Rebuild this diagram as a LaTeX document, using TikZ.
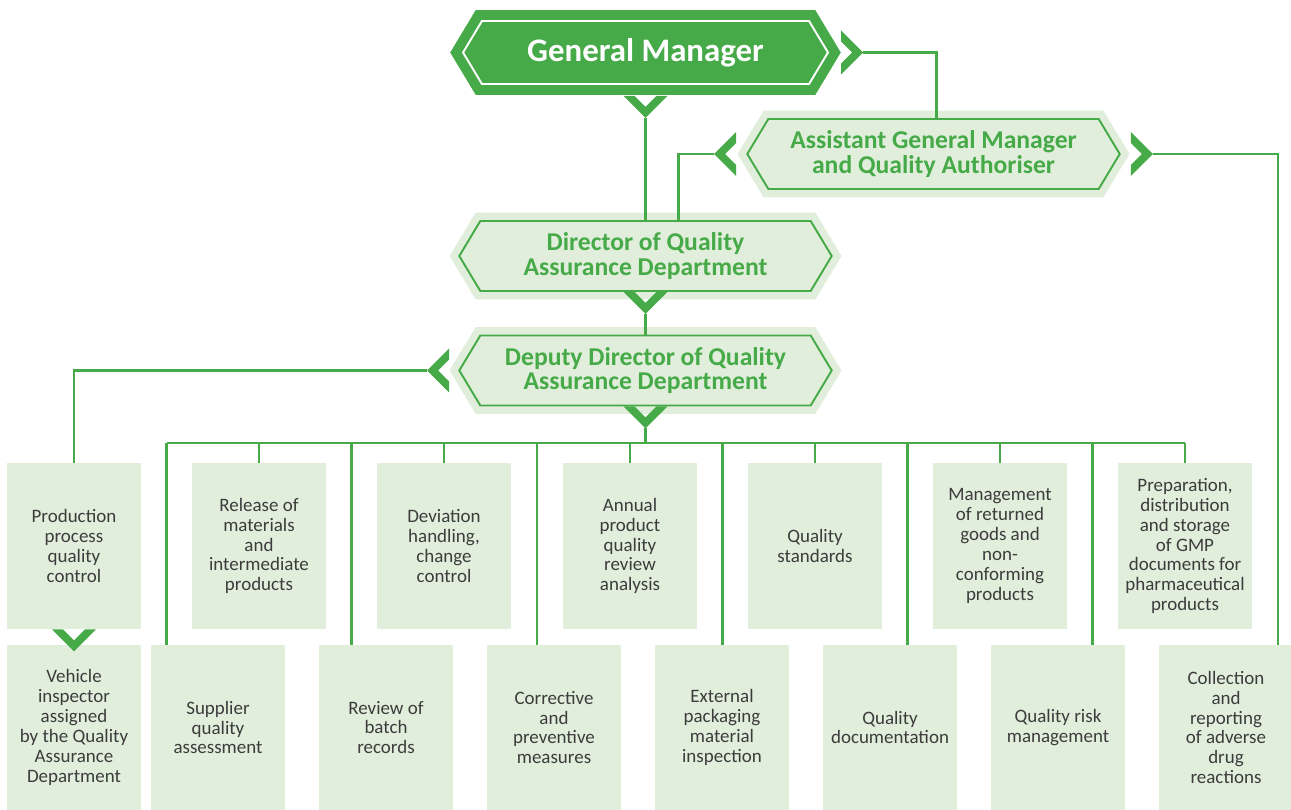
\documentclass[tikz,border=0pt]{standalone}
\usepackage{fontspec}
\setmainfont{Carlito}
\usetikzlibrary{calc,shapes.symbols}

\definecolor{qgreen}{RGB}{70,170,72}
\definecolor{qlight}{RGB}{225,238,220}
\definecolor{qtext}{RGB}{60,60,60}

\begin{document}
\begin{tikzpicture}
          [ x=0.02cm, y=-0.02cm,
            hexa/.style={
              signal,
              signal to=west and east,
              signal pointer angle=118,
              inner sep=0pt,
              align=center,
              line width=1.1pt,
              line join=miter},
            head/.style={
              hexa,
              fill=qlight,
              draw=qgreen,
              text=qgreen,
              minimum width=7.45cm,
              minimum height=1.4cm,
              font=\bfseries\fontsize{14.6}{13.9}\selectfont,
              preaction={draw=qlight, line width=9.5pt}},
            top/.style={
              hexa,
              fill=qgreen,
              draw=white,
              text=white,
              minimum width=7.3cm,
              minimum height=1.26cm,
              font=\bfseries\fontsize{18.7}{20}\selectfont,
              preaction={draw=qgreen, line width=12.5pt}},
            task/.style={
              rectangle,
              fill=qlight,
              inner sep=0pt,
              align=center,
              text=qtext,
              minimum width=2.68cm,
              font=\fontsize{10.8}{11.3}\selectfont},
            upper/.style={task, minimum height=3.32cm},
            lower/.style={task, minimum height=3.3cm},
            link/.style={
              draw=qgreen,
              line width=1.3pt},
            chev/.pic={
              \fill[qgreen] (0,-22) -- (22,0) -- (0,22) -- (0,11) -- (11,0) -- (0,-11) -- cycle;
              \coordinate (-tip) at (22,0);},
          ]

          \useasboundingbox (0,0) rectangle (1291,810);

          \node (gm) [top] at (645.5,52.5) {General Manager};
          \node (agm) [head] at (933.5,154) {Assistant General Manager\\and Quality Authoriser};
          \node (dir) [head] at (645.5,256) {Director of Quality\\Assurance Department};
          \node (dep) [head] at (645.5,370.5) {Deputy Director of Quality\\Assurance Department};

          \node (prod) [upper] at (74,546) {Production\\process\\quality\\control};
          \node (rel) [upper] at (259,546) {Release of\\materials\\and\\intermediate\\products};
          \node (dev) [upper] at (444,546) {Deviation\\handling,\\change\\control};
          \node (ann) [upper] at (630,546) {Annual\\product\\quality\\review\\analysis};
          \node (std) [upper] at (815,546) {Quality\\standards};
          \node (ret) [upper] at (1000,546) {Management\\of returned\\goods and\\non-\\conforming\\products};
          \node (gmp) [upper] at (1185,546) {Preparation,\\distribution\\and storage\\of GMP\\documents for\\pharmaceutical\\products};

          \node (veh) [lower] at (74,727.5) {Vehicle\\inspector\\assigned\\by the Quality\\Assurance\\Department};
          \node (sup) [lower] at (218,727.5) {Supplier\\quality\\assessment};
          \node (rev) [lower] at (386,727.5) {Review of\\batch\\records};
          \node (cor) [lower] at (554,727.5) {Corrective\\and\\preventive\\measures};
          \node (ext) [lower] at (722,727.5) {External\\packaging\\material\\inspection};
          \node (doc) [lower] at (890,727.5) {Quality\\documentation};
          \node (risk) [lower] at (1058,727.5) {Quality risk\\management};
          \node (col) [lower] at (1226,727.5) {Collection\\and\\reporting\\of adverse\\drug\\reactions};

          \pic (gmR) at ($(gm.east)+(12,0)$) {chev};
          \pic [rotate=-90] (gmD) at ($(gm.south)+(0,11)$) {chev};
          \pic [rotate=180] (agmL) at ($(agm.west)+(-10,0)$) {chev};
          \pic (agmR) at ($(agm.east)+(10,0)$) {chev};
          \pic [rotate=-90] (dirD) at (dir.south) {chev};
          \pic [rotate=180] (depL) at ($(dep.west)+(-9,0)$) {chev};
          \pic [rotate=-90] (depD) at (dep.south) {chev};
          \pic [rotate=-90] (prodD) at (prod.south) {chev};

          \coordinate (bus) at (645.5,443);
          \coordinate (j1) at ($(rel.north)!-.5!(dev.north)$);
          \coordinate (j2) at ($(rel.north)!.5!(dev.north)$);
          \coordinate (j3) at ($(dev.north)!.5!(ann.north)$);
          \coordinate (j4) at ($(ann.north)!.5!(std.north)$);
          \coordinate (j5) at ($(std.north)!.5!(ret.north)$);
          \coordinate (j6) at ($(ret.north)!.5!(gmp.north)$);

          \draw[link] (gmD-tip) -- (dir.north);
          \draw[link] (gmR-tip) -| ($(agm.north)+(3,0)$);
          \draw[link] (agmL-tip) -| ($(dir.north)+(33,0)$);
          \draw[link] (agmR-tip) -| ($(col.north)+(52,0)$);
          \draw[link] (dirD-tip) -- (dep.north);
          \draw[link] (depL-tip) -| (prod.north);
          \draw[link] (depD-tip) -- (bus);

          \draw[link] (j1 |- bus) -- (gmp.north |- bus);
          \draw[link] (rel.north) -- (rel.north |- bus);
          \draw[link] (dev.north) -- (dev.north |- bus);
          \draw[link] (ann.north) -- (ann.north |- bus);
          \draw[link] (std.north) -- (std.north |- bus);
          \draw[link] (ret.north) -- (ret.north |- bus);
          \draw[link] (gmp.north) -- (gmp.north |- bus);
          \draw[link] (j1 |- bus) -- (j1 |- sup.north);
          \draw[link] (j2 |- bus) -- (j2 |- rev.north);
          \draw[link] (j3 |- bus) -- (j3 |- cor.north);
          \draw[link] (j4 |- bus) -- (j4 |- ext.north);
          \draw[link] (j5 |- bus) -- (j5 |- doc.north);
          \draw[link] (j6 |- bus) -- (j6 |- risk.north);

        \end{tikzpicture}
\end{document}
